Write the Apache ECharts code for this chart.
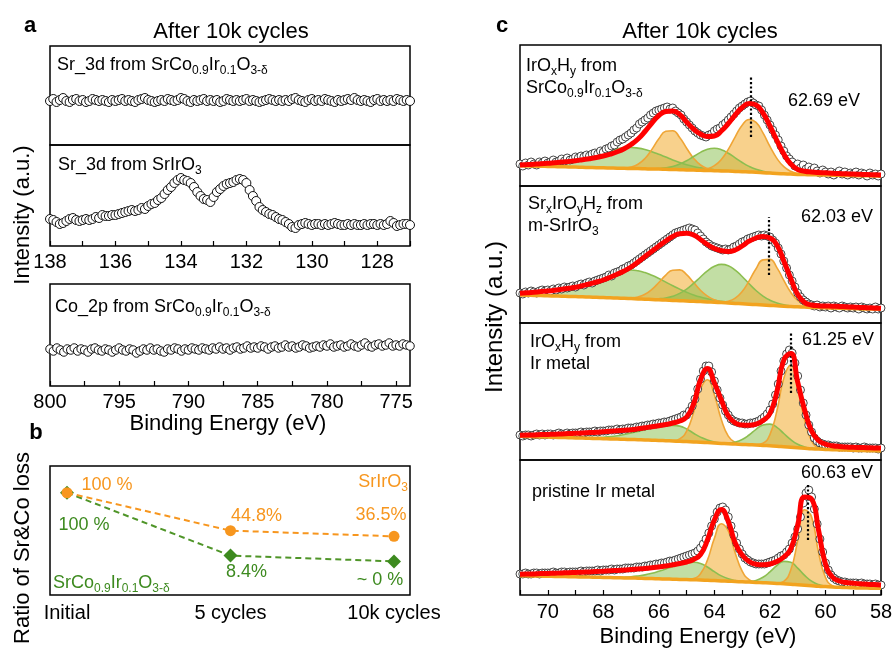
<!DOCTYPE html>
<html>
<head>
<meta charset="utf-8">
<title>XPS after 10k cycles</title>
<script src="https://cdn.jsdelivr.net/npm/echarts@6.0.0/dist/echarts.min.js"></script>
<style>
  html, body { margin: 0; padding: 0; background: #ffffff; }
  #chart { width: 893px; height: 650px; }
</style>
</head>
<body>
<div id="chart"></div>
<script>
// ---------- (a) Sr 3d and Co 2p windows (intensity, arbitrary units) ----------
const sr3dStart = 138, sr3dStep = 0.1;   // binding energy runs high -> low
const sr3dScio = [
  44, 46, 43, 45, 47, 44, 43, 45, 46, 44,
  45, 43, 44, 46, 45, 44, 45, 44, 43, 45,
  44, 45, 46, 44, 45, 44, 43, 45, 46, 47,
  45, 44, 43, 44, 45, 44, 46, 45, 44, 45,
  47, 46, 44, 43, 45, 44, 45, 46, 44, 45,
  44, 45, 43, 44, 46, 45, 44, 45, 44, 45,
  46, 44, 45, 44, 43, 44, 45, 46, 45, 44,
  45, 44, 45, 44, 46, 47, 45, 44, 43, 45,
  46, 44, 45, 44, 46, 45, 44, 43, 45, 44,
  45, 46, 45, 47, 45, 44, 45, 44, 43, 45,
  46, 44, 45, 44, 45, 44, 46, 45, 44, 45,
  44
];
const sr3dSrIrO3 = [
  27, 26, 24, 22, 23, 25, 27, 28, 26, 25,
  26, 27, 26, 27, 29, 28, 31, 30, 30, 31,
  31, 32, 33, 34, 35, 36, 35, 36, 38, 37,
  40, 42, 43, 46, 48, 52, 56, 59, 63, 66,
  68, 66, 65, 63, 59, 54, 50, 47, 46, 44,
  49, 54, 57, 60, 62, 63, 64, 66, 67, 66,
  63, 56, 50, 45, 39, 36, 34, 32, 31, 29,
  27, 26, 24, 22, 19, 18, 21, 22, 23, 22,
  21, 22, 22, 21, 22, 21, 22, 23, 22, 21,
  21, 22, 21, 22, 21, 21, 22, 21, 22, 22,
  21, 22, 21, 22, 25, 23, 20, 21, 22, 22,
  21
];
const co2pStart = 800, co2pStep = 0.25;
const co2pScio = [
  37, 35, 38, 36, 34, 37, 36, 38, 35, 37,
  36, 34, 37, 38, 36, 35, 37, 36, 34, 36,
  38, 36, 35, 37, 36, 33, 35, 37, 36, 38,
  36, 37, 35, 34, 37, 36, 38, 37, 35, 37,
  36, 38, 37, 36, 38, 37, 36, 38, 37, 39,
  37, 38, 36, 38, 39, 37, 38, 40, 38, 39,
  38, 40, 39, 37, 39, 40, 38, 39, 41, 39,
  40, 38, 39, 41, 40, 38, 39, 40, 39, 41,
  40, 42, 39, 40, 41, 39, 40, 42, 40, 39,
  41, 43, 40, 39, 41, 42, 40, 41, 43, 40,
  41, 40, 42, 41, 40
];
const sr3dTicks = [127, 128, 129, 130, 131, 132, 133, 134, 135, 136, 137, 138];
const sr3dTickLabels = [128, 130, 132, 134, 136, 138];
const co2pTicks = [775, 777.5, 780, 782.5, 785, 787.5, 790, 792.5, 795, 797.5, 800];
const co2pTickLabels = [775, 780, 785, 790, 795, 800];

// ---------- (b) ratio of Sr & Co loss ----------
const stageLabels = ['Initial', '5 cycles', '10k cycles'];
const lossSrIrO3 = [100, 44.8, 36.5];
const lossScio = [100, 8.4, 0];
const lossSrIrO3Text = ['100 %', '44.8%', '36.5%'];
const lossScioText = ['100 %', '8.4%', '~ 0 %'];

// ---------- (c) Ir 4f spectra with peak fits ----------
const ir4fRawStart = 71, ir4fRawStep = 0.1;
const ir4fFitStart = 71, ir4fFitStep = 0.25;
const ir4fTicks = [58, 59, 60, 61, 62, 63, 64, 65, 66, 67, 68, 69, 70, 71];
const ir4fTickLabels = [58, 60, 62, 64, 66, 68, 70];
const peakScio = 62.69, peakMSrIrO3 = 62.03, peakIrOx = 61.25, peakIr = 60.63;

// measured counts
const rawScio = [
  22, 20, 23, 21, 24, 22, 21, 24, 23, 25,
  23, 24, 26, 24, 25, 27, 25, 28, 26, 27,
  29, 28, 30, 29, 31, 30, 32, 33, 32, 35,
  34, 37, 38, 40, 41, 44, 46, 47, 49, 51,
  53, 56, 58, 62, 64, 66, 68, 71, 73, 75,
  76, 77, 78, 79, 77, 78, 75, 73, 71, 67,
  64, 61, 58, 55, 53, 51, 50, 49, 51, 52,
  55, 57, 58, 61, 63, 66, 69, 72, 75, 78,
  80, 82, 84, 85, 83, 81, 80, 76, 71, 66,
  61, 56, 51, 46, 40, 35, 30, 27, 24, 20,
  22, 18, 21, 17, 19, 16, 18, 15, 13, 16,
  14, 12, 14, 11, 13, 15, 12, 14, 11, 13,
  12, 14, 11, 13, 12, 10, 13, 11, 12, 10,
  12
];
const rawMSrIrO3 = [
  30, 29, 31, 30, 32, 31, 30, 32, 33, 32,
  33, 32, 34, 33, 35, 34, 36, 35, 36, 37,
  36, 38, 39, 38, 40, 41, 40, 42, 43, 44,
  45, 46, 48, 47, 50, 51, 52, 54, 55, 57,
  58, 60, 62, 64, 66, 68, 70, 72, 74, 76,
  78, 80, 82, 84, 86, 88, 90, 91, 92, 93,
  94, 95, 94, 93, 90, 87, 84, 81, 79, 77,
  76, 75, 74, 73, 74, 73, 74, 76, 77, 79,
  81, 82, 84, 85, 86, 87, 88, 87, 88, 87,
  86, 83, 80, 75, 69, 62, 55, 48, 42, 36,
  30, 26, 23, 21, 19, 18, 17, 18, 16, 17,
  16, 17, 15, 17, 16, 15, 17, 16, 15, 16,
  15, 16, 14, 16, 15, 14, 15, 14, 16, 14,
  15
];
const rawIrOx = [
  25, 24, 25, 25, 24, 25, 26, 25, 26, 25,
  26, 26, 25, 26, 27, 26, 26, 27, 26, 27,
  27, 27, 28, 27, 28, 28, 28, 29, 28, 29,
  29, 29, 30, 30, 30, 31, 30, 31, 31, 32,
  32, 32, 33, 33, 34, 34, 35, 35, 36, 36,
  37, 37, 38, 38, 39, 40, 41, 42, 43, 45,
  45, 49, 54, 61, 71, 81, 89, 94, 94, 88,
  79, 70, 62, 55, 49, 45, 41, 39, 38, 37,
  37, 36, 36, 37, 37, 38, 39, 41, 43, 46,
  50, 56, 65, 76, 89, 99, 106, 110, 107, 97,
  84, 70, 57, 45, 35, 28, 22, 19, 17, 16,
  15, 15, 14, 14, 14, 13, 13, 13, 13, 13,
  12, 13, 12, 12, 13, 12, 12, 12, 12, 11,
  12
];
const rawIr = [
  21, 21, 22, 21, 21, 22, 22, 21, 22, 22,
  22, 22, 23, 22, 22, 23, 23, 22, 23, 23,
  23, 23, 24, 23, 24, 24, 24, 24, 25, 24,
  25, 25, 25, 26, 25, 26, 26, 26, 27, 27,
  27, 27, 28, 28, 28, 29, 29, 30, 30, 31,
  31, 32, 32, 33, 34, 34, 35, 36, 37, 38,
  39, 40, 41, 42, 44, 47, 51, 56, 62, 69,
  76, 83, 87, 88, 85, 78, 69, 60, 52, 46,
  41, 37, 35, 33, 32, 31, 31, 31, 31, 32,
  33, 34, 35, 37, 39, 40, 43, 46, 52, 58,
  66, 78, 92, 102, 105, 98, 86, 71, 56, 43,
  32, 25, 20, 17, 15, 14, 13, 13, 12, 12,
  12, 12, 11, 12, 11, 11, 11, 10, 11, 10,
  10
];

// Shirley backgrounds
const bgScio = [
  20.3, 20.1, 19.9, 19.8, 19.6, 19.4, 19.2, 19.1, 18.9, 18.7,
  18.5, 18.3, 18.2, 18.0, 17.8, 17.7, 17.5, 17.4, 17.2, 17.0,
  16.9, 16.7, 16.5, 16.3, 16.1, 15.9, 15.7, 15.5, 15.3, 15.1,
  14.9, 14.6, 14.3, 14.0, 13.7, 13.3, 12.9, 12.5, 12.2, 11.9,
  11.6, 11.4, 11.2, 11.1, 11.0, 10.8, 10.7, 10.5, 10.4, 10.3,
  10.2, 10.1, 10.0
];
const bgMSrIrO3 = [
  28.0, 27.8, 27.6, 27.4, 27.2, 27.0, 26.8, 26.6, 26.4, 26.2,
  25.9, 25.7, 25.4, 25.2, 24.9, 24.7, 24.4, 24.1, 23.8, 23.5,
  23.2, 22.9, 22.6, 22.3, 22.0, 21.7, 21.4, 21.1, 20.7, 20.4,
  20.0, 19.6, 19.2, 18.8, 18.4, 18.0, 17.6, 17.2, 16.8, 16.5,
  16.2, 15.9, 15.6, 15.4, 15.2, 15.0, 14.8, 14.6, 14.4, 14.2,
  14.0, 13.9, 13.7
];
const bgIrOx = [
  23.7, 23.5, 23.3, 23.1, 22.9, 22.7, 22.5, 22.3, 22.1, 21.9,
  21.7, 21.5, 21.3, 21.1, 20.9, 20.7, 20.5, 20.3, 20.1, 19.8,
  19.6, 19.3, 19.0, 18.7, 18.4, 18.1, 17.8, 17.4, 17.0, 16.6,
  16.2, 15.9, 15.6, 15.3, 15.0, 14.6, 14.2, 13.8, 13.3, 12.8,
  12.3, 11.8, 11.3, 10.9, 10.6, 10.3, 10.1, 9.9, 9.7, 9.5,
  9.3, 9.2, 9.0
];
const bgIr = [
  19.3, 19.2, 19.0, 18.9, 18.8, 18.6, 18.5, 18.3, 18.2, 18.0,
  17.9, 17.7, 17.6, 17.4, 17.3, 17.1, 17.0, 16.8, 16.6, 16.4,
  16.2, 16.0, 15.8, 15.6, 15.4, 15.2, 15.0, 14.7, 14.4, 14.1,
  13.8, 13.5, 13.2, 12.9, 12.6, 12.3, 12.0, 11.6, 11.2, 10.8,
  10.3, 9.8, 9.3, 8.8, 8.4, 8.0, 7.7, 7.4, 7.2, 7.0,
  6.9, 6.8, 6.7
];

// fit envelopes
const fitScio = [
  21.0, 21.4, 21.8, 22.2, 22.7, 23.3, 23.9, 24.6, 25.3, 26.3,
  27.3, 28.5, 30.0, 31.8, 34.2, 37.3, 41.5, 47.0, 54.5, 63.0,
  70.5, 74.5, 75.0, 71.5, 64.0, 57.0, 52.0, 49.5, 50.0, 55.0,
  62.5, 71.0, 78.5, 82.5, 81.0, 73.0, 60.0, 45.5, 32.0, 22.0,
  16.5, 14.8, 14.0, 13.5, 13.2, 12.8, 12.5, 12.2, 12.0, 11.7,
  11.4, 11.2, 11.0
];
const fitMSrIrO3 = [
  29.7, 30.2, 30.8, 31.4, 32.0, 32.8, 33.8, 34.7, 35.7, 37.3,
  39.0, 41.0, 43.0, 45.8, 48.8, 52.0, 56.0, 61.0, 66.5, 71.8,
  77.0, 82.0, 86.5, 89.2, 89.8, 88.0, 83.5, 78.5, 74.5, 72.3,
  71.5, 73.0, 77.0, 81.8, 85.0, 86.5, 85.0, 78.0, 62.0, 44.5,
  28.5, 20.5, 18.0, 17.3, 17.0, 16.8, 16.5, 16.3, 16.0, 15.6,
  15.3, 15.0, 14.7
];
const fitIrOx = [
  24.7, 24.9, 25.1, 25.4, 25.6, 25.8, 26.1, 26.4, 26.7, 27.0,
  27.4, 27.8, 28.3, 28.8, 29.3, 29.8, 30.3, 31.2, 32.2, 33.2,
  34.3, 35.5, 37.0, 39.0, 43.0, 56.0, 80.0, 91.5, 77.0, 60.0,
  44.0, 37.0, 35.0, 34.7, 35.8, 39.5, 46.5, 68.0, 100.0, 106.5,
  78.0, 50.0, 29.0, 19.5, 15.8, 14.3, 13.5, 13.0, 12.7, 12.5,
  12.3, 12.1, 12.0
];
const fitIr = [
  20.7, 20.9, 21.1, 21.4, 21.6, 21.8, 22.0, 22.3, 22.5, 22.8,
  23.1, 23.4, 23.8, 24.2, 24.6, 25.0, 25.5, 26.0, 26.5, 27.2,
  28.0, 29.0, 30.2, 31.5, 33.0, 35.5, 40.5, 55.0, 75.0, 85.5,
  73.5, 52.0, 40.0, 33.5, 30.8, 30.2, 31.0, 33.5, 38.0, 46.0,
  70.0, 98.0, 96.0, 65.0, 31.0, 18.0, 14.0, 12.5, 11.8, 11.2,
  10.8, 10.4, 10.0
];

// fitted components, height above the background
const scioGreen1 = [
  0.1, 0.2, 0.3, 0.5, 0.9, 1.5, 2.4, 3.6, 5.2, 7.3,
  9.6, 12.2, 14.8, 17.3, 19.3, 20.5, 21.0, 20.5, 19.3, 17.3,
  14.8, 12.2, 9.6, 7.3, 5.2, 3.6, 2.4, 1.5, 0.9, 0.5,
  0.3, 0.2, 0.1, 0, 0, 0, 0, 0, 0, 0,
  0, 0, 0, 0, 0, 0, 0, 0, 0, 0,
  0, 0, 0
];
const scioOrange1 = [
  0, 0, 0, 0, 0, 0, 0, 0, 0, 0,
  0, 0, 0, 0, 0.1, 0.4, 1.5, 4.4, 10.3, 19.6,
  30.3, 38.0, 38.8, 32.2, 21.7, 11.9, 5.3, 1.9, 0.6, 0.1,
  0, 0, 0, 0, 0, 0, 0, 0, 0, 0,
  0, 0, 0, 0, 0, 0, 0, 0, 0, 0,
  0, 0, 0
];
const scioGreen2 = [
  0, 0, 0, 0, 0, 0, 0, 0, 0, 0,
  0, 0, 0, 0, 0, 0, 0, 0, 0.1, 0.25,
  0.6, 1.5, 3.0, 5.6, 9.2, 13.6, 17.9, 21.2, 22.4, 21.2,
  17.9, 13.6, 9.2, 5.6, 3.0, 1.5, 0.6, 0.25, 0.1, 0,
  0, 0, 0, 0, 0, 0, 0, 0, 0, 0,
  0, 0, 0
];
const scioOrange2 = [
  0, 0, 0, 0, 0, 0, 0, 0, 0, 0,
  0, 0, 0, 0, 0, 0, 0, 0, 0, 0,
  0, 0, 0, 0, 0, 0.2, 0.6, 1.9, 5.0, 11.4,
  21.7, 34.6, 46.5, 52.5, 49.9, 39.8, 26.7, 15.1, 7.1, 2.8,
  1.0, 0.3, 0, 0, 0, 0, 0, 0, 0, 0,
  0, 0, 0
];
const msroGreen1 = [
  0.25, 0.5, 0.8, 1.3, 2.0, 3.1, 4.5, 6.4, 8.8, 11.6,
  14.7, 18.0, 21.3, 24.2, 26.6, 28.1, 28.6, 28.1, 26.6, 24.2,
  21.3, 18.0, 14.7, 11.6, 8.8, 6.4, 4.5, 3.1, 2.0, 1.3,
  0.8, 0.5, 0.25, 0.1, 0, 0, 0, 0, 0, 0,
  0, 0, 0, 0, 0, 0, 0, 0, 0, 0,
  0, 0, 0
];
const msroOrange1 = [
  0, 0, 0, 0, 0, 0, 0, 0, 0, 0,
  0, 0, 0, 0, 0, 0.2, 0.7, 2.0, 5.0, 10.1,
  17.3, 25.0, 30.2, 30.8, 26.3, 18.9, 11.4, 5.8, 2.5, 0.9,
  0.3, 0, 0, 0, 0, 0, 0, 0, 0, 0,
  0, 0, 0, 0, 0, 0, 0, 0, 0, 0,
  0, 0, 0
];
const msroGreen2 = [
  0, 0, 0, 0, 0, 0, 0, 0, 0, 0,
  0, 0, 0, 0, 0, 0, 0, 0, 0.15, 0.4,
  1.0, 2.1, 4.1, 7.3, 11.9, 17.9, 24.6, 31.1, 36.0, 38.2,
  37.3, 33.3, 27.3, 20.5, 14.1, 8.9, 5.2, 2.8, 1.3, 0.6,
  0.2, 0, 0, 0, 0, 0, 0, 0, 0, 0,
  0, 0, 0
];
const msroOrange2 = [
  0, 0, 0, 0, 0, 0, 0, 0, 0, 0,
  0, 0, 0, 0, 0, 0, 0, 0, 0, 0,
  0, 0, 0, 0, 0, 0, 0, 0, 0, 0.5,
  1.8, 5.3, 12.3, 23.3, 35.9, 45.1, 46.0, 38.2, 25.8, 14.2,
  6.3, 2.3, 0.7, 0.2, 0, 0, 0, 0, 0, 0,
  0, 0, 0
];
const iroxGreen1 = [
  0, 0, 0, 0, 0, 0, 0, 0.1, 0.2, 0.3,
  0.6, 0.9, 1.5, 2.3, 3.4, 4.8, 6.5, 8.3, 10.3, 12.2,
  13.9, 15.0, 15.6, 15.2, 12.6, 8.7, 5.1, 2.5, 1.0, 0.4,
  0.1, 0, 0, 0, 0, 0, 0, 0, 0, 0,
  0, 0, 0, 0, 0, 0, 0, 0, 0, 0,
  0, 0, 0
];
const iroxOrange1 = [
  0, 0, 0, 0, 0, 0, 0, 0, 0, 0,
  0, 0, 0, 0, 0, 0, 0, 0, 0, 0,
  0, 0, 0.4, 2.4, 10.5, 29.3, 53.3, 62.8, 48.0, 23.8,
  7.7, 1.6, 0.2, 0, 0, 0, 0, 0, 0, 0,
  0, 0, 0, 0, 0, 0, 0, 0, 0, 0,
  0, 0, 0
];
const iroxGreen2 = [
  0, 0, 0, 0, 0, 0, 0, 0, 0, 0,
  0, 0, 0, 0, 0, 0, 0, 0, 0, 0,
  0, 0, 0, 0, 0, 0, 0, 0, 0, 0.2,
  0.7, 2.0, 4.9, 9.7, 15.6, 20.4, 21.7, 18.8, 13.2, 7.6,
  3.5, 1.3, 0.4, 0.1, 0, 0, 0, 0, 0, 0,
  0, 0, 0
];
const iroxOrange2 = [
  0, 0, 0, 0, 0, 0, 0, 0, 0, 0,
  0, 0, 0, 0, 0, 0, 0, 0, 0, 0,
  0, 0, 0, 0, 0, 0, 0, 0, 0, 0,
  0, 0, 0, 0, 0.3, 2.2, 11.2, 35.2, 68.5, 82.2,
  61.0, 27.9, 7.9, 1.4, 0.2, 0, 0, 0, 0, 0,
  0, 0, 0
];
const irGreen1 = [
  0, 0, 0, 0, 0, 0, 0, 0, 0, 0,
  0, 0, 0, 0.1, 0.3, 0.7, 1.2, 2.2, 3.5, 5.3,
  7.6, 10.1, 12.8, 15.1, 16.8, 17.6, 16.6, 13.3, 8.9, 5.0,
  2.4, 1.0, 0.3, 0.1, 0, 0, 0, 0, 0, 0,
  0, 0, 0, 0, 0, 0, 0, 0, 0, 0,
  0, 0, 0
];
const irOrange1 = [
  0, 0, 0, 0, 0, 0, 0, 0, 0, 0,
  0, 0, 0, 0, 0, 0, 0, 0, 0, 0,
  0, 0, 0, 0, 0.2, 1.3, 6.3, 20.2, 42.2, 57.1,
  50.2, 28.6, 10.6, 2.5, 0.4, 0, 0, 0, 0, 0,
  0, 0, 0, 0, 0, 0, 0, 0, 0, 0,
  0, 0, 0
];
const irGreen2 = [
  0, 0, 0, 0, 0, 0, 0, 0, 0, 0,
  0, 0, 0, 0, 0, 0, 0, 0, 0, 0,
  0, 0, 0, 0, 0, 0, 0, 0, 0, 0,
  0, 0, 0.1, 0.6, 2.0, 5.4, 11.1, 17.9, 22.4, 21.9,
  16.6, 9.8, 4.5, 1.6, 0.5, 0.1, 0, 0, 0, 0,
  0, 0, 0
];
const irOrange2 = [
  0, 0, 0, 0, 0, 0, 0, 0, 0, 0,
  0, 0, 0, 0, 0, 0, 0, 0, 0, 0,
  0, 0, 0, 0, 0, 0, 0, 0, 0, 0,
  0, 0, 0, 0, 0, 0, 0, 0.2, 2.5, 14.1,
  43.8, 75.5, 69.0, 33.9, 9.2, 1.4, 0.1, 0, 0, 0,
  0, 0, 0
];

// ---------- styling ----------
const FONT = '"Liberation Sans", Arial, Helvetica, sans-serif';
const ORANGE = '#F7961E';
const GREEN = '#3D8A1F';
const GREEN_LINE = '#4F9528';
const FIT_RED = '#FF0000';
const BG_LINE = '#F2A31F';
const O_LINE = '#EFA536', O_FILL = 'rgba(243,172,45,0.55)';
const G_LINE = '#8CBE50', G_FILL = 'rgba(134,190,74,0.5)';

// [energy, value] rows
const pairs = (vals, start, step) => vals.map((v, i) => [+(start - i * step).toFixed(3), v]);
// [value, energy] rows: the intensity comes first so that it is the stacked dimension
const stackRows = (vals, start, step) => vals.map((v, i) => [v, +(start - i * step).toFixed(3)]);

const frame = { show: true, borderColor: '#000', borderWidth: 1.5, backgroundColor: 'rgba(0,0,0,0)', outerBoundsMode: 'none', containLabel: false };
const grid = [
  Object.assign({ left: 50, top: 46, width: 360, height: 99 }, frame),     // 0: Sr 3d, SrCo0.9Ir0.1O3
  Object.assign({ left: 50, top: 145, width: 360, height: 101 }, frame),   // 1: Sr 3d, SrIrO3
  Object.assign({ left: 50, top: 284, width: 360, height: 102 }, frame),   // 2: Co 2p
  { left: 67, top: 466, width: 327, height: 129, show: false, outerBoundsMode: 'none' }, // 3: loss ratio
  Object.assign({ left: 50, top: 466, width: 360, height: 129 }, frame),   // 4: loss ratio frame
  Object.assign({ left: 520, top: 45, width: 361, height: 141 }, frame),   // 5..8: Ir 4f
  Object.assign({ left: 520, top: 186, width: 361, height: 137 }, frame),
  Object.assign({ left: 520, top: 323, width: 361, height: 137 }, frame),
  Object.assign({ left: 520, top: 460, width: 361, height: 135 }, frame)
];

const hiddenX = (gridIndex, min, max, inverse) => ({ gridIndex, type: 'value', min, max, inverse, show: false });
const tickX = (gridIndex, min, max, ticks, labels, margin) => ({
  gridIndex, type: 'value', min, max, inverse: true,
  axisLine: { show: false },
  splitLine: { show: false },
  axisTick: { show: true, inside: true, length: 5, customValues: ticks, lineStyle: { color: '#000', width: 1.2 } },
  axisLabel: { show: true, customValues: labels, margin, fontSize: 20, fontFamily: FONT, color: '#000' }
});
const xAxis = [
  hiddenX(0, 127, 138, true),
  tickX(1, 127, 138, sr3dTicks, sr3dTickLabels, 6),
  tickX(2, 774, 800, co2pTicks, co2pTickLabels, 6),
  { gridIndex: 3, type: 'category', data: stageLabels, boundaryGap: false,
    axisLine: { show: false }, axisTick: { show: false }, splitLine: { show: false },
    axisLabel: { margin: 8, fontSize: 20, fontFamily: FONT, color: '#000' } },
  hiddenX(4, 0, 1, false),
  hiddenX(5, 58, 71, true),
  hiddenX(6, 58, 71, true),
  hiddenX(7, 58, 71, true),
  tickX(8, 58, 71, ir4fTicks, ir4fTickLabels, 7)
];
const yRanges = [[0, 99], [0, 101], [0, 102], [-49, 139], [0, 1], [0, 141], [0, 137], [0, 137], [0, 135]];
const yAxis = yRanges.map((r, i) => ({ gridIndex: i, type: 'value', min: r[0], max: r[1], show: false }));

const series = [];

// (a) open-circle spectra
const openCircles = (axis, data, size) => ({
  type: 'scatter', xAxisIndex: axis, yAxisIndex: axis, data, symbol: 'circle', symbolSize: size,
  itemStyle: { color: '#fff', borderColor: '#111', borderWidth: 1, opacity: 1 }, silent: true, z: 3
});
series.push(openCircles(0, pairs(sr3dScio, sr3dStart, sr3dStep), 9));
series.push(openCircles(1, pairs(sr3dSrIrO3, sr3dStart, sr3dStep), 9));
series.push(openCircles(2, pairs(co2pScio, co2pStart, co2pStep), 8.5));

// (b) loss ratio
const scioLabelOffset = [[17, 32], [16, 16], [-14, 19]];
const sroLabelOffset = [[40, -8], [26, -15], [-13, -21]];
const lossLabel = (color, texts) => ({
  show: true, position: 'inside', color, fontSize: 18, fontFamily: FONT, textBorderWidth: 0,
  formatter: p => texts[p.dataIndex]
});
series.push({
  type: 'line', xAxisIndex: 3, yAxisIndex: 3, clip: false, z: 3,
  data: lossScio.map((v, i) => ({ value: v, label: { offset: scioLabelOffset[i] } })),
  symbol: 'diamond', symbolSize: 14, showSymbol: true,
  itemStyle: { color: GREEN },
  lineStyle: { color: GREEN_LINE, width: 2, type: [6, 4] },
  label: lossLabel(GREEN, lossScioText)
});
series.push({
  type: 'line', xAxisIndex: 3, yAxisIndex: 3, clip: false, z: 4,
  data: lossSrIrO3.map((v, i) => ({ value: v, label: { offset: sroLabelOffset[i] } })),
  symbol: 'circle', symbolSize: 11, showSymbol: true,
  itemStyle: { color: ORANGE },
  lineStyle: { color: ORANGE, width: 2, type: [6, 4] },
  label: lossLabel(ORANGE, lossSrIrO3Text)
});

// (c) Ir 4f: components (stacked on the background), data, background, envelope
function ir4fPanel(axis, raw, bg, fit, parts, peak, dotFrom, dotTo) {
  const bgRows = stackRows(bg, ir4fFitStart, ir4fFitStep);
  const enc = { x: 1, y: 0 };
  parts.forEach((p, j) => {
    const stack = 'ir4f_' + axis + '_' + j;
    series.push({ type: 'line', xAxisIndex: axis, yAxisIndex: axis, stack, data: bgRows, encode: enc, smooth: true,
      symbol: 'none', showSymbol: false, lineStyle: { width: 0, opacity: 0 }, silent: true, z: 2 });
    series.push({ type: 'line', xAxisIndex: axis, yAxisIndex: axis, stack, data: stackRows(p.h, ir4fFitStart, ir4fFitStep),
      encode: enc, smooth: true, symbol: 'none', showSymbol: false, silent: true, z: 2,
      lineStyle: { color: p.green ? G_LINE : O_LINE, width: 1.6 },
      areaStyle: { color: p.green ? G_FILL : O_FILL, opacity: 1 } });
  });
  series.push(Object.assign(openCircles(axis, pairs(raw, ir4fRawStart, ir4fRawStep), 8),
    { itemStyle: { color: '#fff', borderColor: '#1a1a1a', borderWidth: 0.8, opacity: 1 } }));
  series.push({ type: 'line', xAxisIndex: axis, yAxisIndex: axis, data: pairs(bg, ir4fFitStart, ir4fFitStep), smooth: true,
    symbol: 'none', showSymbol: false, silent: true, z: 4, lineStyle: { color: BG_LINE, width: 3.5 } });
  series.push({ type: 'line', xAxisIndex: axis, yAxisIndex: axis, data: pairs(fit, ir4fFitStart, ir4fFitStep),
    smooth: true, symbol: 'none', showSymbol: false, silent: true, z: 5,
    lineStyle: { color: FIT_RED, width: 5 },
    markLine: { silent: true, symbol: ['none', 'none'], label: { show: false }, animation: false,
      lineStyle: { color: '#000', type: 'dotted', width: 2.2 },
      data: [[{ coord: [peak, dotFrom] }, { coord: [peak, dotTo] }]] } });
}
ir4fPanel(5, rawScio, bgScio, fitScio,
  [{ h: scioGreen1, green: true }, { h: scioOrange1 }, { h: scioGreen2, green: true }, { h: scioOrange2 }],
  peakScio, 49, 109);
ir4fPanel(6, rawMSrIrO3, bgMSrIrO3, fitMSrIrO3,
  [{ h: msroGreen1, green: true }, { h: msroOrange1 }, { h: msroGreen2, green: true }, { h: msroOrange2 }],
  peakMSrIrO3, 48, 106);
ir4fPanel(7, rawIrOx, bgIrOx, fitIrOx,
  [{ h: iroxGreen1, green: true }, { h: iroxOrange1 }, { h: iroxGreen2, green: true }, { h: iroxOrange2 }],
  peakIrOx, 67, 127);
ir4fPanel(8, rawIr, bgIr, fitIr,
  [{ h: irGreen1, green: true }, { h: irOrange1 }, { h: irGreen2, green: true }, { h: irOrange2 }],
  peakIr, 55, 112);

// ---------- text ----------
const sub = color => ({ s: { fontSize: 12, lineHeight: 12, padding: [12, 0, 0, 0], fill: color, fontFamily: FONT } });
function txt(x, y, text, o) {
  o = o || {};
  const color = o.color || '#000';
  return {
    type: 'text', x, y, rotation: o.rot || 0, silent: true, z: 100,
    style: {
      text, fontFamily: FONT, fontSize: o.size || 18, fontWeight: o.weight || 'normal', fill: color,
      align: o.align || 'left', verticalAlign: o.va || 'middle', lineHeight: o.lh || 22, rich: sub(color)
    }
  };
}
const graphic = [
  // panel letters and titles
  txt(30, 26, 'a', { size: 22, weight: 'bold', align: 'center' }),
  txt(36, 433, 'b', { size: 22, weight: 'bold', align: 'center' }),
  txt(502, 26, 'c', { size: 22, weight: 'bold', align: 'center' }),
  txt(231, 32, 'After 10k cycles', { size: 22, align: 'center' }),
  txt(700, 32, 'After 10k cycles', { size: 22, align: 'center' }),
  // panel a
  txt(57, 65, 'Sr_3d from SrCo{s|0.9}Ir{s|0.1}O{s|3-δ}'),
  txt(58, 165, 'Sr_3d from SrIrO{s|3}'),
  txt(55, 307, 'Co_2p from SrCo{s|0.9}Ir{s|0.1}O{s|3-δ}'),
  txt(23, 215, 'Intensity (a.u.)', { size: 22, align: 'center', rot: Math.PI / 2 }),
  txt(228, 424, 'Binding Energy (eV)', { size: 22, align: 'center' }),
  // panel b
  txt(23, 548, 'Ratio of Sr&Co loss', { size: 22, align: 'center', rot: Math.PI / 2 }),
  txt(408, 482, 'SrIrO{s|3}', { color: ORANGE, align: 'right' }),
  txt(53, 583, 'SrCo{s|0.9}Ir{s|0.1}O{s|3-δ}', { color: GREEN }),
  // panel c
  txt(526, 55, 'IrO{s|x}H{s|y} from\nSrCo{s|0.9}Ir{s|0.1}O{s|3-δ}', { va: 'top' }),
  txt(528, 193, 'Sr{s|x}IrO{s|y}H{s|z} from\nm-SrIrO{s|3}', { va: 'top' }),
  txt(530, 331, 'IrO{s|x}H{s|y} from\nIr metal', { va: 'top' }),
  txt(532, 492, 'pristine Ir metal'),
  txt(788, 101, peakScio.toFixed(2) + ' eV'),
  txt(801, 217, peakMSrIrO3.toFixed(2) + ' eV'),
  txt(802, 340, peakIrOx.toFixed(2) + ' eV'),
  txt(801, 473, peakIr.toFixed(2) + ' eV'),
  txt(495, 317, 'Intensity (a.u.)', { size: 24, align: 'center', rot: Math.PI / 2 }),
  txt(698, 637, 'Binding Energy (eV)', { size: 22, align: 'center' })
];

const chart = echarts.init(document.getElementById('chart'), null, { renderer: 'canvas' });
chart.setOption({
  backgroundColor: '#ffffff',
  animation: false,
  textStyle: { fontFamily: FONT },
  grid, xAxis, yAxis, series, graphic
});
</script>
</body>
</html>
